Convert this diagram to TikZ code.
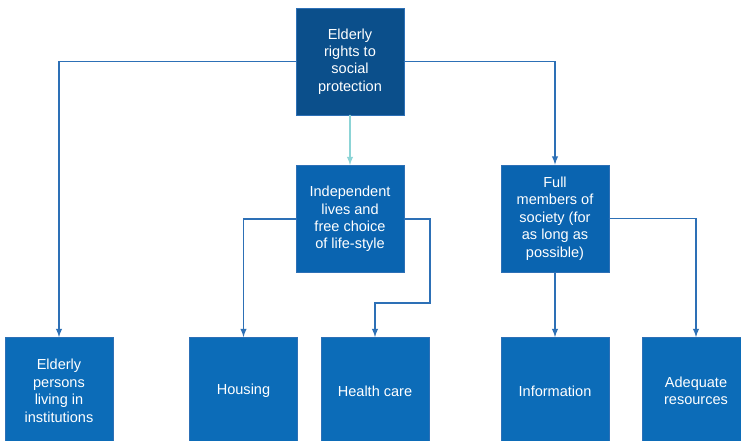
\documentclass[tikz,border=0pt]{standalone}
\usepackage{fontspec}
\setmainfont{Liberation Sans}
\usepackage{xcolor}
\definecolor{boxblue}{RGB}{12,108,184}
\definecolor{midblue}{RGB}{10,100,176}
\definecolor{topblue}{RGB}{11,79,139}
\definecolor{edgeblue}{RGB}{45,112,182}
\definecolor{linkteal}{RGB}{140,212,214}

\begin{document}
\begin{tikzpicture}[x=0.75pt,y=-0.75pt,line cap=round]
	\tikzstyle{box}=[rectangle,draw=edgeblue,fill=boxblue,text=white,align=center,inner sep=0pt,
		minimum width=81pt,minimum height=80.5pt,font=\fontsize{10.9}{13.1}\selectfont];
	\tikzstyle{link}=[draw=edgeblue,line width=1.1pt,-latex];
	\clip (0,0) rectangle (741,441);
	\fill[white] (0,0) rectangle (741,441);
	% top and middle row
	\node[box,fill=topblue] (rights) at (350,61.5) {Elderly\\rights to\\social\\protection};
	\node[box,fill=midblue] (indep) at (350,219) {Independent\\lives and\\free choice\\of life-style};
	\node[box,fill=midblue] (full) at (555,218.5) {Full\\members of\\society (for\\as long as\\possible)};
	% bottom row
	\node[box] (elder) at (59,391) {Elderly\\persons\\living in\\institutions};
	\node[box] (housing) at (243.5,391) {Housing};
	\node[box] (health) at (375,391) {Health care};
	\node[box] (info) at (555,391) {Information};
	\node[box] (adequate) at (696,391) {Adequate\\resources};
	\coordinate (bend) at (430,303);
	\draw[link] (rights.west) -| (elder.north);
	\draw[link] (rights.east) -| (full.north);
	\draw[link,draw=linkteal] (rights.south) -- (indep.north);
	\draw[link] (indep.west) -| (housing.north);
	\draw[link] (indep.east) -| (bend) -| (health.north);
	\draw[link] (full.south) -- (info.north);
	\draw[link] (full.east) -| (adequate.north);
\end{tikzpicture}
\end{document}
